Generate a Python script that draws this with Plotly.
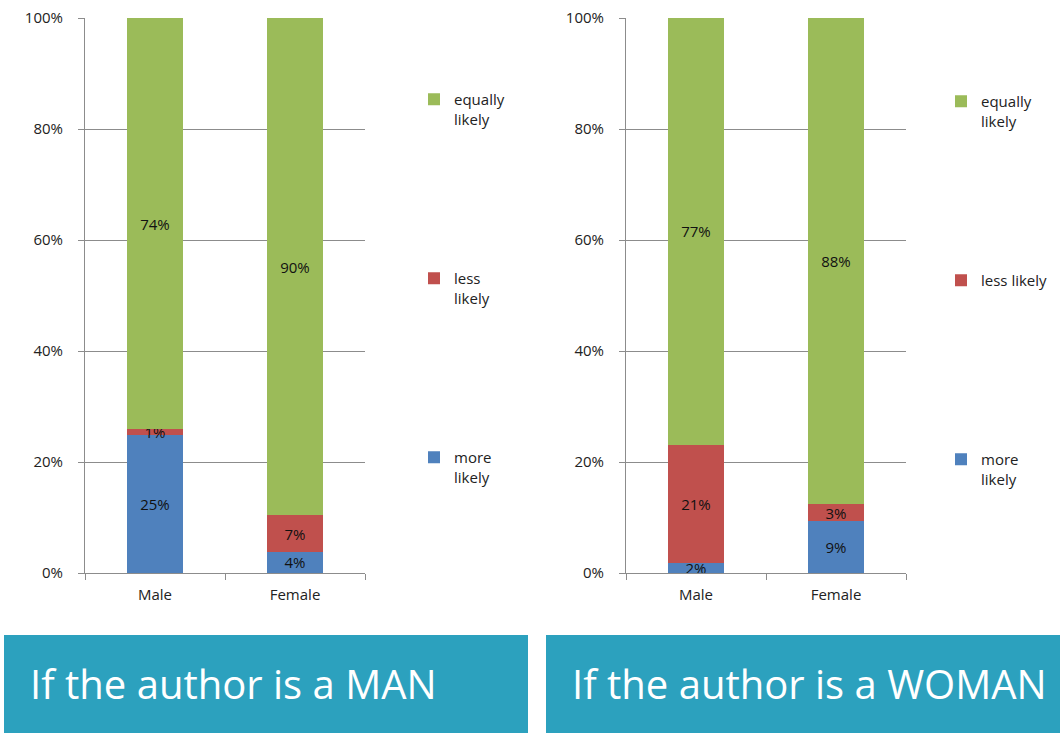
import plotly.graph_objects as go

# categories and values (percent)
categories = ["Male", "Female"]
series_colors = ["#4F81BD", "#C0504D", "#9BBB59"]

man_more = [24.9, 3.8]
man_less = [1.0, 6.6]
man_equal = [74.1, 89.6]

woman_more = [1.8, 9.4]
woman_less = [21.3, 3.0]
woman_equal = [76.9, 87.6]

y_ticks = [0, 20, 40, 60, 80, 100]
y_tick_labels = ["0%", "20%", "40%", "60%", "80%", "100%"]
panel_titles = ["If the author is a MAN", "If the author is a WOMAN"]

W, H = 1060, 733
FONT = "Open Sans"
GRID = "#8C8C8C"


def px(x):
    return x / W


def py(y):
    return 1 - y / H


fig = go.Figure()

panels = [
    ("x", "y", "legend", [man_more, man_less, man_equal],
     ["more<br>likely", "less<br>likely", "equally<br>likely"]),
    ("x2", "y2", "legend2", [woman_more, woman_less, woman_equal],
     ["more<br>likely", "less likely<br> ", "equally<br>likely"]),
]

for xa, ya, lg, vals, labels in panels:
    for i, (v, name, color) in enumerate(zip(vals, labels, series_colors)):
        fig.add_trace(go.Bar(
            x=categories, y=v, name=name,
            xaxis=xa, yaxis=ya, legend=lg,
            legendgroup=lg + str(i), legendrank=3 - i,
            marker=dict(color=color, line=dict(width=0)),
            texttemplate="%{y:.0f}%", textposition="inside",
            insidetextanchor="middle",
            textfont=dict(color="#111111", size=15, family=FONT),
            hoverinfo="skip",
        ))

xaxis_common = dict(
    showline=True, linecolor=GRID, linewidth=1,
    ticks="outside", tickson="boundaries", ticklen=6, tickcolor=GRID,
    ticklabelstandoff=8,
    tickfont=dict(size=15, color="#222222", family=FONT),
)
yaxis_common = dict(
    showline=True, linecolor=GRID, linewidth=1,
    range=[0, 100], tickvals=y_ticks, ticktext=y_tick_labels,
    ticks="outside", ticklen=6, tickcolor=GRID, ticklabelstandoff=12,
    showgrid=True, gridcolor=GRID, zeroline=False,
    tickfont=dict(size=15, color="#222222", family=FONT),
)
legend_common = dict(
    xanchor="left", yanchor="top", valign="top", tracegroupgap=137,
    bgcolor="rgba(0,0,0,0)",
    font=dict(size=15, color="#222222", family=FONT),
)

fig.update_layout(
    width=W, height=H,
    margin=dict(l=0, r=0, t=0, b=0, autoexpand=False),
    paper_bgcolor="white", plot_bgcolor="white",
    barmode="stack", bargap=0.6,
    uniformtext=dict(mode="show", minsize=15),
    showlegend=True,
    xaxis=dict(domain=[px(85), px(365)], anchor="y", **xaxis_common),
    yaxis=dict(domain=[py(573), py(18)], anchor="x", **yaxis_common),
    xaxis2=dict(domain=[px(626), px(906)], anchor="y2", **xaxis_common),
    yaxis2=dict(domain=[py(573), py(18)], anchor="x2", **yaxis_common),
    legend=dict(x=px(414), y=py(83), **legend_common),
    legend2=dict(x=px(941), y=py(85), **legend_common),
)

# teal caption boxes
for (x0, x1), title in zip([(4, 528), (546, 1060)], panel_titles):
    fig.add_shape(type="rect", xref="paper", yref="paper",
                  x0=px(x0), x1=px(x1), y0=0, y1=py(635),
                  fillcolor="#2CA1BE", line=dict(width=0), layer="below")
    fig.add_annotation(text=title, xref="paper", yref="paper",
                       x=px(x0 + 24), y=py(683), xanchor="left", yanchor="middle",
                       showarrow=False,
                       font=dict(size=40, color="white", family=FONT))

fig.write_html(
    "out.html",
    config={"displayModeBar": False},
    post_script="document.body.style.margin='0px';document.body.style.overflow='hidden';",
)
